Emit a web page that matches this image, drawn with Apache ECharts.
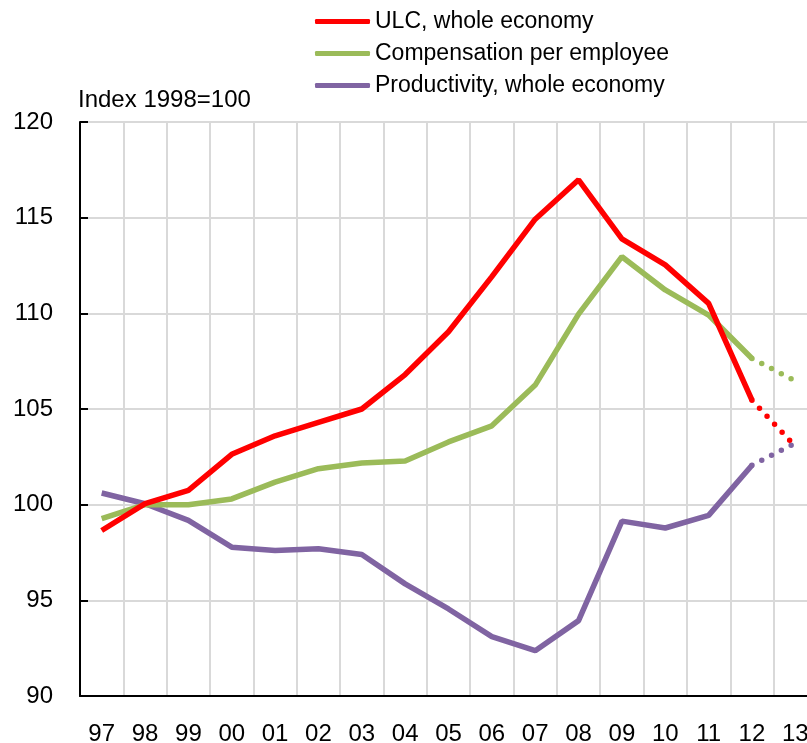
<!DOCTYPE html>
<html>
<head>
<meta charset="utf-8">
<script src="https://cdn.jsdelivr.net/npm/echarts@6/dist/echarts.min.js"></script>
<style>
html, body { margin: 0; padding: 0; background: #fff; }
#chart { width: 807px; height: 743px; }
</style>
</head>
<body>
<div id="chart"></div>
<script>
const mychart = echarts.init(document.getElementById('chart'))

// years 1997 - 2013, last year is a forecast (dotted)
var years = ['97', '98', '99', '00', '01', '02', '03', '04', '05', '06', '07', '08', '09', '10', '11', '12', '13']
var ulc = [98.65, 100.05, 100.75, 102.63, 103.6, 104.3, 105.0, 106.8, 109.04, 111.92, 114.92, 116.98, 113.89, 112.53, 110.52, 105.46, 103.05]
var compensation = [99.27, 100.0, 100.0, 100.3, 101.18, 101.88, 102.18, 102.28, 103.28, 104.12, 106.25, 109.96, 112.96, 111.22, 109.91, 107.64, 106.47]
var productivity = [100.61, 100.05, 99.18, 97.78, 97.6, 97.7, 97.4, 95.86, 94.55, 93.1, 92.37, 93.94, 99.14, 98.78, 99.44, 102.06, 103.22]
var names = ['ULC, whole economy', 'Compensation per employee', 'Productivity, whole economy']
var colors = ['#ff0000', '#9bbb59', '#8064a2']
var lastActual = 15 // index of '12'

var font = 'Liberation Sans, Arial, sans-serif'

function actual(arr) {
    return arr.map(function (v, i) { return i <= lastActual ? v : '-' })
}
function forecast(arr) {
    return arr.map(function (v, i) { return i >= lastActual ? v : '-' })
}

var series = [];
[ulc, compensation, productivity].forEach(function (arr, k) {
    series.push({
        name: names[k],
        type: 'line',
        data: actual(arr),
        symbol: 'none',
        color: colors[k],
        lineStyle: {color: colors[k], width: 5.5},
        z: 10 - k
    })
    series.push({
        name: names[k],
        type: 'line',
        data: forecast(arr),
        symbol: 'none',
        color: colors[k],
        lineStyle: {color: colors[k], width: 5.5, type: [0, 11], cap: 'round'},
        z: 10 - k
    })
})

mychart.setOption({
    animation: false,
    backgroundColor: '#fff',
    textStyle: {fontFamily: font},
    legend: {
        orient: 'vertical',
        left: 315,
        top: 10,
        padding: 0,
        itemWidth: 55,
        itemHeight: 5,
        itemGap: 9,
        icon: 'roundRect',
        data: names,
        textStyle: {fontSize: 23, color: '#000', fontFamily: font}
    },
    grid: {
        left: 80,
        top: 122,
        width: 737,
        bottom: 47,
        containLabel: false,
        outerBoundsMode: 'none'
    },
    xAxis: {
        type: 'category',
        data: years,
        boundaryGap: true,
        axisLine: {lineStyle: {color: '#000', width: 2}},
        axisTick: {inside: true, length: 8, lineStyle: {color: '#000', width: 2}},
        axisLabel: {interval: 0, fontSize: 24, color: '#000', margin: 26, fontFamily: font},
        splitLine: {show: true, lineStyle: {color: '#d9d9d9', width: 2}}
    },
    yAxis: {
        type: 'value',
        min: 90,
        max: 120,
        interval: 5,
        name: 'Index 1998=100',
        nameLocation: 'end',
        nameGap: 10,
        nameTextStyle: {fontSize: 24, color: '#000', align: 'left', padding: [0, 0, 0, -2], fontFamily: font},
        axisLine: {show: true, lineStyle: {color: '#000', width: 2}},
        axisTick: {show: true, inside: true, length: 8, lineStyle: {color: '#000', width: 2}},
        axisLabel: {fontSize: 24, color: '#000', margin: 27, fontFamily: font},
        splitLine: {show: true, lineStyle: {color: '#d9d9d9', width: 2}}
    },
    series: series
})
</script>
</body>
</html>
